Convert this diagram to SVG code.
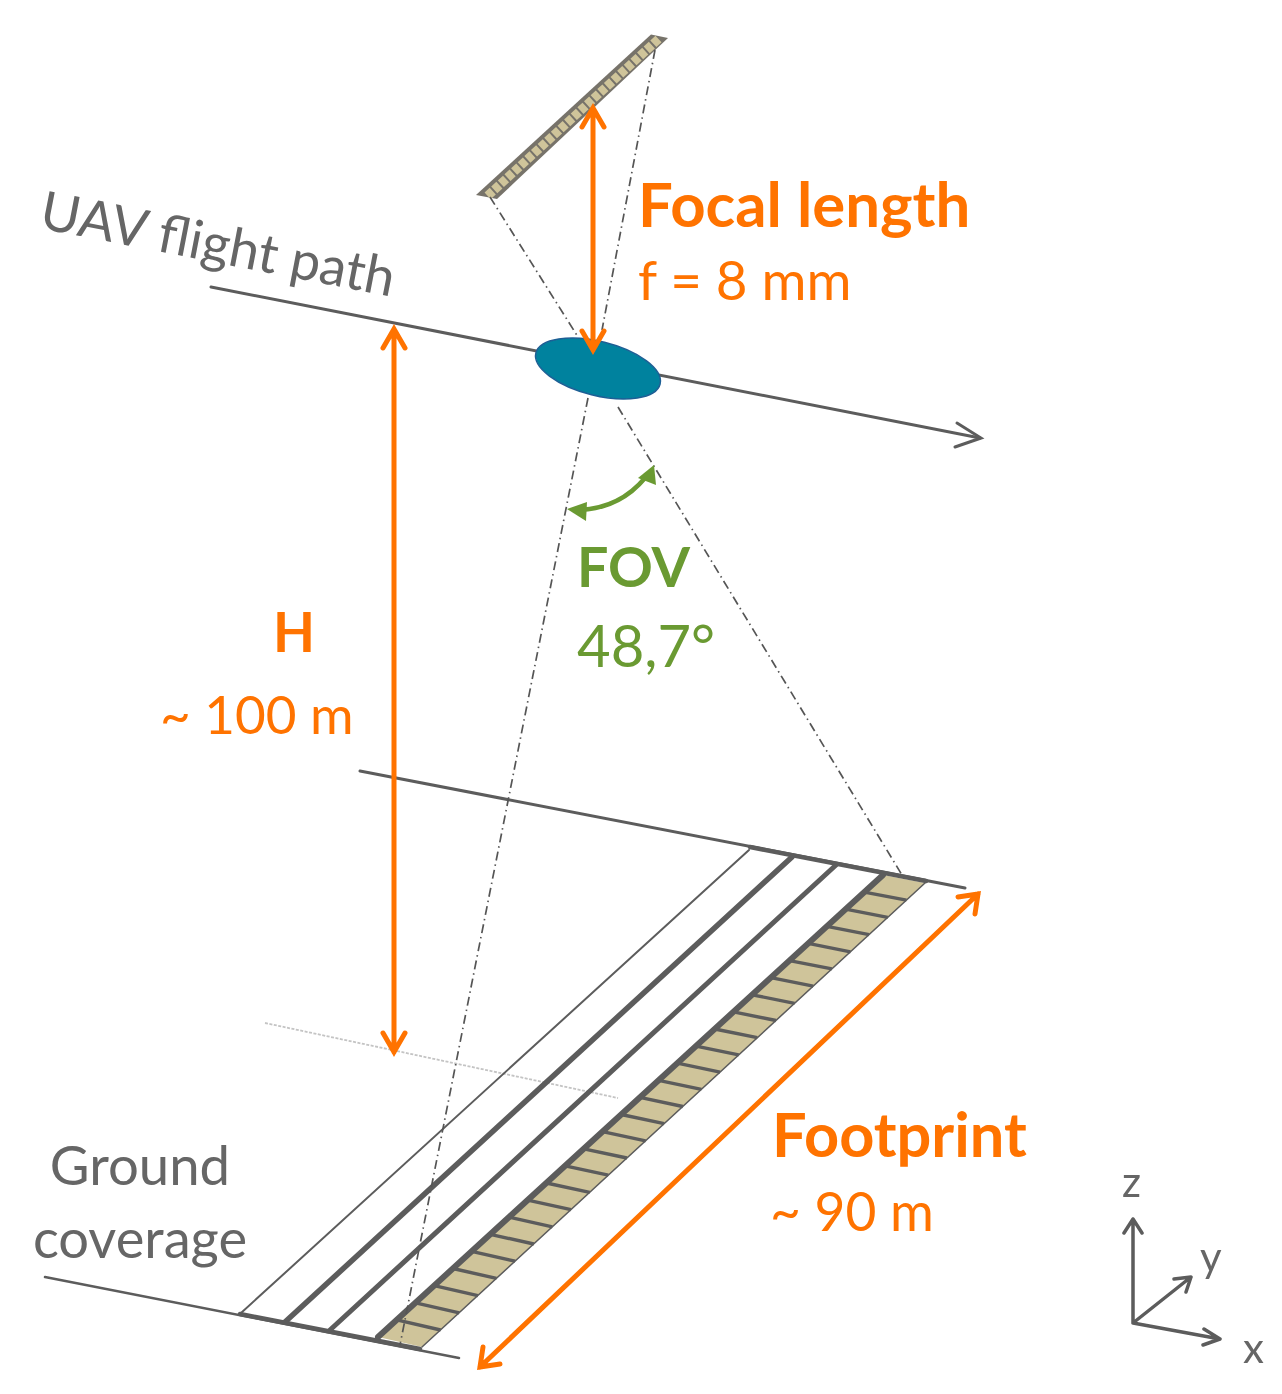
<svg xmlns="http://www.w3.org/2000/svg" width="1282" height="1394" viewBox="0 0 1282 1394">
<defs><filter id="soft" x="-5%" y="-5%" width="110%" height="110%"><feGaussianBlur stdDeviation="0.6"/></filter></defs>
<style>
text{font-family:"Lato","Carlito","Open Sans",sans-serif}
.o{fill:#ff7300}.g{fill:#6a9a32}.k{fill:#666}
.b{font-weight:700}
.ln{stroke:#5c5c5c;fill:none;stroke-linecap:round}
.dash{stroke:#555;stroke-width:1.7;fill:none;stroke-dasharray:9 4 1.5 4}
.oa{stroke:#ff7300;stroke-width:5;fill:none;stroke-linecap:round;stroke-linejoin:miter}
.row{stroke:#5c5c5c;stroke-width:3.4}
</style>
<rect width="1282" height="1394" fill="#fff"/>
<g filter="url(#soft)">
<g id="ground">
<line x1="265" y1="1023" x2="618" y2="1098" stroke="#c4c4c4" stroke-width="1.8" stroke-dasharray="3 1.5"/>
<polygon points="883,875 925,883 422,1347 378,1337" fill="#cfc49a"/>
<g class="row">
<line x1="864.3" y1="892.1" x2="906.4" y2="900.2"/><line x1="845.6" y1="909.2" x2="887.7" y2="917.4"/><line x1="826.9" y1="926.3" x2="869.1" y2="934.6"/><line x1="808.2" y1="943.4" x2="850.5" y2="951.8"/><line x1="789.5" y1="960.6" x2="831.9" y2="968.9"/><line x1="770.8" y1="977.7" x2="813.2" y2="986.1"/><line x1="752.1" y1="994.8" x2="794.6" y2="1003.3"/><line x1="733.4" y1="1011.9" x2="776" y2="1020.5"/><line x1="714.7" y1="1029" x2="757.3" y2="1037.7"/><line x1="696" y1="1046.1" x2="738.7" y2="1054.9"/><line x1="677.3" y1="1063.2" x2="720.1" y2="1072.1"/><line x1="658.6" y1="1080.3" x2="701.4" y2="1089.3"/><line x1="639.9" y1="1097.4" x2="682.8" y2="1106.5"/><line x1="621.2" y1="1114.5" x2="664.2" y2="1123.7"/><line x1="602.5" y1="1131.7" x2="645.6" y2="1140.9"/><line x1="583.8" y1="1148.8" x2="626.9" y2="1158"/><line x1="565.1" y1="1165.9" x2="608.3" y2="1175.2"/><line x1="546.4" y1="1183" x2="589.7" y2="1192.4"/><line x1="527.7" y1="1200.1" x2="571" y2="1209.6"/><line x1="509" y1="1217.2" x2="552.4" y2="1226.8"/><line x1="490.3" y1="1234.3" x2="533.8" y2="1244"/><line x1="471.6" y1="1251.4" x2="515.1" y2="1261.2"/><line x1="452.9" y1="1268.5" x2="496.5" y2="1278.4"/><line x1="434.2" y1="1285.6" x2="477.9" y2="1295.6"/><line x1="415.5" y1="1302.8" x2="459.3" y2="1312.8"/><line x1="396.8" y1="1319.9" x2="440.6" y2="1330"/>
</g>
<line class="ln" x1="925" y1="883" x2="422" y2="1347" stroke-width="1.5"/>
<line class="ln" x1="749" y1="850" x2="241" y2="1313" stroke-width="2"/>
<line class="ln" x1="792" y1="857" x2="285" y2="1322" stroke-width="5.500"/>
<line class="ln" x1="836" y1="865" x2="330" y2="1330" stroke-width="5"/>
<line class="ln" x1="883" y1="875" x2="378" y2="1337" stroke-width="6"/>
<line class="ln" x1="360" y1="771" x2="965" y2="888" stroke-width="3"/>
<line class="ln" x1="750" y1="847" x2="926" y2="881" stroke-width="4.500"/>
<line class="ln" x1="45" y1="1277" x2="459" y2="1358" stroke-width="2.500"/>
<line class="ln" x1="240" y1="1314" x2="420" y2="1349" stroke-width="4.500"/>
</g>
<g id="sensor">
<polygon points="651,34.500 668,38 497,199 476,195" fill="#77736a"/>
<line x1="658.500" y1="39" x2="487.500" y2="196" stroke="#cfc49a" stroke-width="9" stroke-dasharray="7 2"/>
</g>
<g id="connectors">
<line class="ln" x1="211" y1="287" x2="980" y2="438" stroke-width="3"/>
<polyline class="ln" points="957,423 981,438 955,447" stroke-width="3"/>
<path class="dash" d="M490,197 L578,337 M618,407 L902,875"/>
<path class="dash" d="M655,50 L602,330 M588,398 L400,1345"/>
</g>
<g id="lens">
<ellipse cx="598" cy="368.500" rx="64" ry="27" transform="rotate(14 598 368.500)" fill="#00829e" stroke="#1f5f95" stroke-width="1.500"/>
</g>
<g id="dimensions">
<path class="oa" d="M593,110 V350 M582,127 L593,108 L604,127 M582,331 L593,350 L604,331"/>
<path class="oa" d="M394,329 V1052 M383,348 L394,329 L405,348 M383,1033 L394,1052 L405,1033"/>
<path class="oa" d="M978,894 L480,1367 M958,897 L978,894 L975,914 M483,1347 L480,1367 L500,1364"/>
<path d="M580,510 Q620,508 645,478" fill="none" stroke="#6a9a32" stroke-width="4.500"/>
<polygon class="g" points="567,509 587,502 586,521"/>
<polygon class="g" points="654,465 638,478 656,485"/>
</g>
</g>
<g id="labels" filter="url(#soft)">
<text class="k" font-size="53.500" transform="translate(38 228) rotate(11)">UAV flight path</text>
<text class="o b" x="638" y="227" font-size="61.700">Focal length</text>
<text class="o" x="638" y="300" font-size="54.700">f = 8 mm</text>
<text class="g b" x="577" y="587" font-size="55.500">FOV</text>
<text class="g" x="577" y="667" font-size="58">48,7°</text>
<text class="o b" x="273" y="652" font-size="54.500">H</text>
<text class="o" x="160" y="734" font-size="53">~ 100 m</text>
<text class="o b" x="772" y="1157" font-size="61.300">Footprint</text>
<text class="o" x="770" y="1231" font-size="53.300">~ 90 m</text>
<text class="k" x="140" y="1185" font-size="54.500" text-anchor="middle">Ground</text>
<text class="k" x="140" y="1258" font-size="54.300" text-anchor="middle">coverage</text>
</g>
<g id="axes" filter="url(#soft)">
<path class="ln" stroke-width="3.500" stroke-linejoin="round" d="M1133,1323 V1219 M1124,1233 L1133,1219 L1142,1233 M1133,1323 L1191,1277 M1174,1279 L1191,1277 L1186,1292 M1133,1323 L1220,1339 M1204,1329 L1220,1339 M1220,1339 L1203,1345"/>
<text class="k" x="1122" y="1197" font-size="42">z</text>
<text class="k" x="1200" y="1272" font-size="42">y</text>
<text class="k" x="1243" y="1363" font-size="42">x</text>
</g>
</svg>
